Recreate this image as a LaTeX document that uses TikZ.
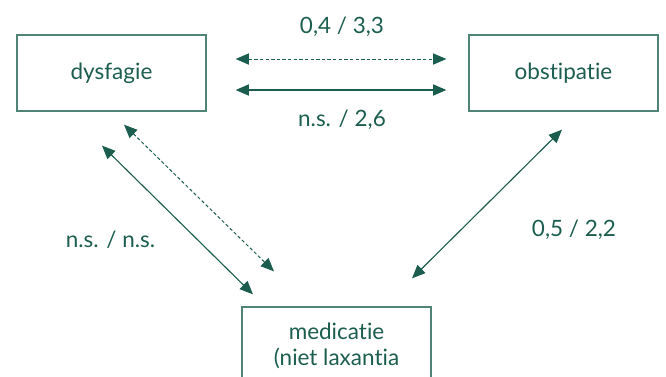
\documentclass[tikz,border=0pt]{standalone}
\usepackage{fontspec}
\setmainfont{Lato}[Ligatures=NoCommon]
\usetikzlibrary{arrows.meta}

\definecolor{groen}{HTML}{1B5E4F}
\definecolor{rand}{HTML}{4F8375}

\tikzset{
    vak/.style={draw=rand,line width=0.9pt,minimum width=4.725cm,minimum height=1.9cm,
        text=groen,font=\fontsize{16}{18.5}\selectfont,align=center},
    pijl/.style={groen,line width=0.8pt,{Triangle[length=9.5pt,width=8pt]}-{Triangle[length=9.5pt,width=8pt]}},
    streep/.style={line width=0.7pt,dash pattern=on 2.4pt off 1.6pt},
    getal/.style={text=groen,font=\fontsize{16}{18}\selectfont}
}

\begin{document}
\begin{tikzpicture}
    \useasboundingbox(0,0)rectangle(16.65,-9.4);
    \clip(0,0)rectangle(16.65,-9.4);

    \node[vak](dys)at(2.7875,-1.825){dysfagie};
    \node[vak](obs)at(14.0875,-1.825){obstipatie};
    \node[vak,minimum height=1.95cm](med)at(8.4125,-8.65){medicatie\\(niet laxantia};

    % dysfagie - obstipatie
    \draw[pijl,streep]([shift={(0.725,0.35)}]dys.east)--([shift={(-0.55,0.35)}]obs.west);
    \draw[pijl]([shift={(0.725,-0.425)}]dys.east)--([shift={(-0.55,-0.425)}]obs.west);
    \node[getal](l1)at(8.55,-0.675){0,4 / 3,3};
    \node[getal](l2)at(8.55,-3.0){n.s. / 2,6};

    % dysfagie - medicatie
    \draw[pijl,streep]([shift={(0.3125,-0.325)}]dys.south)--([shift={(-1.5625,0.875)}]med.north);
    \draw[pijl]([shift={(-0.2375,-0.85)}]dys.south)--([shift={(-2.0875,0.3)}]med.north);
    \node[getal](l3)at(2.7625,-6.0){n.s. / n.s.};

    % obstipatie - medicatie
    \draw[pijl]([shift={(-0.0375,-0.45)}]obs.south)--([shift={(1.8875,0.7)}]med.north);
    \node[getal](l4)at(14.35,-5.75){0,5 / 2,2};
\end{tikzpicture}
\end{document}
